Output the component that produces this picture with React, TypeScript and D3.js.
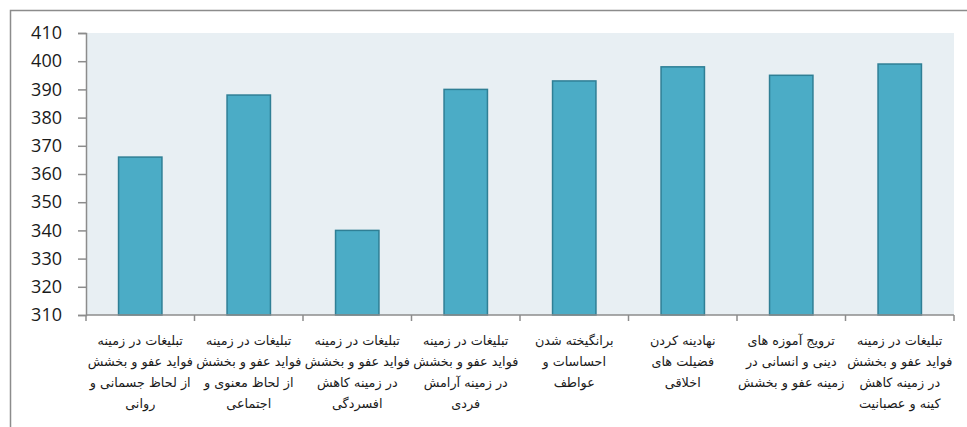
import React, { useEffect, useRef } from 'react'
import * as d3 from 'd3'

// category labels, already split into lines as in the picture
const categories: string[][] = [
  ['تبلیغات در زمینه', 'فواید عفو و بخشش', 'از لحاظ جسمانی و', 'روانی'],
  ['تبلیغات در زمینه', 'فواید عفو و بخشش', 'از لحاظ معنوی و', 'اجتماعی'],
  ['تبلیغات در زمینه', 'فواید عفو و بخشش', 'در زمینه کاهش', 'افسردگی'],
  ['تبلیغات در زمینه', 'فواید عفو و بخشش', 'در زمینه آرامش', 'فردی'],
  ['برانگیخته شدن', 'احساسات و', 'عواطف'],
  ['نهادینه کردن', 'فضیلت های', 'اخلاقی'],
  ['ترویج آموزه های', 'دینی و انسانی در', 'زمینه عفو و بخشش'],
  ['تبلیغات در زمینه', 'فواید عفو و بخشش', 'در زمینه کاهش', 'کینه و عصبانیت'],
]

const values = [366, 388, 340, 390, 393, 398, 395, 399]

const yTicks = [310, 320, 330, 340, 350, 360, 370, 380, 390, 400, 410]

const App = () => {
  const chartRef = useRef<SVGSVGElement>(null)

  useEffect(() => {
    const width = 967
    const height = 427
    const margin = { top: 33, right: 13, bottom: 112, left: 86 }
    const innerW = width - margin.left - margin.right
    const innerH = height - margin.top - margin.bottom

    const root = d3.select(chartRef.current)
    root.selectAll('*').remove()
    root.attr('width', width).attr('height', height)

    // outer frame (only top and left edges visible)
    root
      .append('path')
      .attr('d', `M10.5,${height} V10.5 H${width}`)
      .attr('fill', 'none')
      .attr('stroke', '#8c8c8c')
      .attr('stroke-width', 1.5)

    const svg = root.append('g').attr('transform', `translate(${margin.left},${margin.top})`)

    const idx = categories.map((_, i) => i)
    const x = d3.scaleBand<number>().domain(idx).range([0, innerW]).paddingInner(0.6).paddingOuter(0.3)
    const band = d3.scaleBand<number>().domain(idx).range([0, innerW])
    const y = d3.scaleLinear().domain([310, 410]).range([innerH, 0])

    svg.append('rect').attr('width', innerW).attr('height', innerH).attr('fill', '#e8eff3')

    svg
      .selectAll('rect.bar')
      .data(values)
      .join('rect')
      .attr('class', 'bar')
      .attr('x', (_, i) => x(i)!)
      .attr('y', (d) => y(d))
      .attr('width', x.bandwidth())
      .attr('height', (d) => innerH - y(d))
      .attr('fill', '#4bacc6')
      .attr('stroke', '#2f7f95')
      .attr('stroke-width', 1.5)

    // Y axis
    const yAxis = svg
      .append('g')
      .call(d3.axisLeft(y).tickValues(yTicks).tickSize(8).tickPadding(16).tickFormat(d3.format('d')))
    yAxis.select('.domain').attr('stroke', '#8c8c8c').attr('stroke-width', 1.5)
    yAxis.selectAll('.tick line').attr('stroke', '#8c8c8c').attr('stroke-width', 1.5)
    yAxis
      .selectAll('.tick text')
      .attr('fill', '#1a1a1a')
      .style('font-family', '"Open Sans", sans-serif')
      .style('font-size', '18px')

    // X axis: line and ticks at band boundaries
    const xAxis = svg.append('g').attr('transform', `translate(0,${innerH})`)
    xAxis
      .append('line')
      .attr('x1', 0)
      .attr('x2', innerW)
      .attr('stroke', '#8c8c8c')
      .attr('stroke-width', 1.5)
    xAxis
      .selectAll('line.tk')
      .data([...idx, idx.length])
      .join('line')
      .attr('class', 'tk')
      .attr('x1', (i) => (i < idx.length ? band(i)! : innerW))
      .attr('x2', (i) => (i < idx.length ? band(i)! : innerW))
      .attr('y1', 0)
      .attr('y2', 6)
      .attr('stroke', '#8c8c8c')
      .attr('stroke-width', 1.5)

    // category labels
    xAxis
      .selectAll('text.cat')
      .data(categories)
      .join('text')
      .attr('class', 'cat')
      .attr('text-anchor', 'middle')
      .attr('direction', 'rtl')
      .attr('fill', '#1a1a1a')
      .style('font-family', '"DejaVu Sans", sans-serif')
      .style('font-size', '12.8px')
      .each(function (lines, i) {
        const t = d3.select(this)
        lines.forEach((ln, j) => {
          t.append('tspan')
            .attr('x', band(i)! + band.bandwidth() / 2)
            .attr('y', 30 + j * 21)
            .text(ln)
        })
      })
  }, [])

  return <svg ref={chartRef} style={{ position: 'absolute', left: 0, top: 0 }}></svg>
}

export default App
